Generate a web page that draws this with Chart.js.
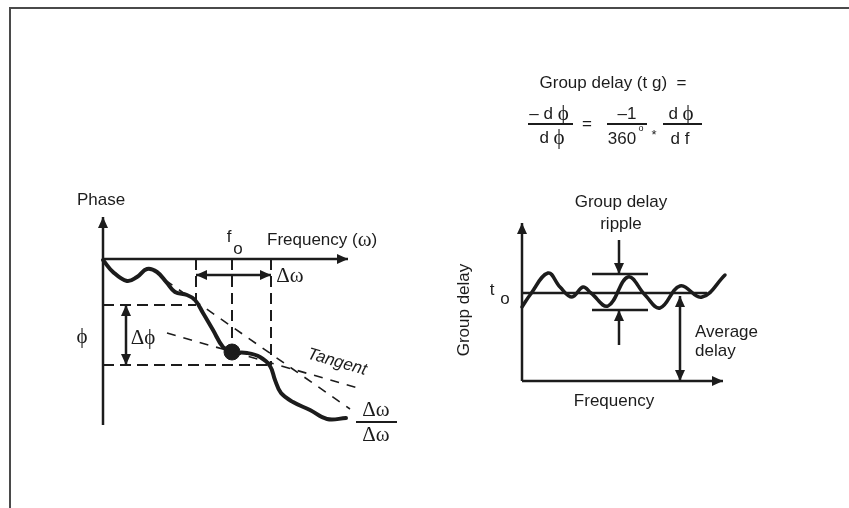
<!DOCTYPE html>
<html>
<head>
<meta charset="utf-8">
<script src="https://cdn.jsdelivr.net/npm/chart.js@4/dist/chart.umd.min.js"></script>
<style>
  html, body { margin: 0; padding: 0; background: #fff; }
  canvas { display: block; }
</style>
</head>
<body>
<canvas id="chart" width="849" height="508"></canvas>
<script>
// sheet units: x to the right, y downwards, one unit per pixel
const W = 849, H = 508;

// phase against frequency, with the operating point f0
const phaseCurve = [
  [103, 260], [113, 272], [127, 281], [137, 277], [147, 269], [157, 272],
  [167, 283], [175, 292], [187, 295], [195, 300], [203, 313], [213, 330],
  [223, 347], [232, 352], [247, 353], [260, 357], [270, 366], [275, 380],
  [281, 393], [293, 402], [310, 410], [327, 419], [346, 418]
];
const operatingPoint = [232, 352];
const tangentLine = [[167, 333], [358, 388]];
const secantLine = [[165, 280], [350, 409]];
const phaseAxisX = 103, freqAxisY = 259;
const omegaLeft = 196, omegaRight = 271;
const phiTop = 305, phiBottom = 365;

// group delay against frequency
const delayCurve = [
  [522, 307], [530, 295], [548, 273], [560, 287], [572, 297], [583, 287],
  [591, 293], [608, 306], [628, 277], [645, 295], [660, 308], [680, 286],
  [702, 297], [725, 275]
];
const delayAxisX = 522, delayBaseY = 381;
const averageDelayY = 293;
const rippleTop = 274, rippleBottom = 310;
const rippleLeft = 592, rippleRight = 648, rippleX = 619;
const averageX = 680;

const INK = '#1c1c1c';
const SANS = '"Liberation Sans", Arial, sans-serif';
const SERIF = '"Liberation Serif", "DejaVu Serif", serif';

function pts(list) {
  return list.map(([x, y]) => ({ x, y }));
}

function line(list, opts) {
  return Object.assign({
    data: pts(list),
    showLine: true,
    pointRadius: 0,
    borderColor: INK,
    borderWidth: 2.5,
    fill: false,
    tension: 0
  }, opts || {});
}

const dashed = { borderWidth: 2, borderDash: [11, 6] };
const thinDash = { borderWidth: 1.6, borderDash: [9, 8] };

// shafts of arrows: [x1, y1, x2, y2, heads]  heads: 1 = at end, 2 = both ends
const arrows = [
  [phaseAxisX, 425, phaseAxisX, 217, 1],
  [phaseAxisX, freqAxisY, 348, freqAxisY, 1],
  [omegaLeft, 275, omegaRight, 275, 2],
  [126, phiTop, 126, phiBottom, 2],
  [delayAxisX, delayBaseY, delayAxisX, 223, 1],
  [delayAxisX, delayBaseY, 723, delayBaseY, 1],
  [rippleX, 240, rippleX, rippleTop, 1],
  [rippleX, 345, rippleX, rippleBottom, 1],
  [averageX, averageDelayY + 3, averageX, delayBaseY, 2]
];

// fraction bars in the formula and beside the phase curve
const fractionBars = [
  [528, 573, 124], [607, 647, 124], [663, 702, 124], [356, 397, 422]
];

const datasets = [
  // sheet frame
  line([[9, 8], [W, 8]], { borderColor: '#4a4a4a', borderWidth: 2 }),
  line([[10, 8], [10, H]], { borderColor: '#4a4a4a', borderWidth: 2 }),
  // construction lines
  line([[omegaLeft, freqAxisY], [omegaLeft, 300]], dashed),
  line([[operatingPoint[0], freqAxisY], [operatingPoint[0], operatingPoint[1]]], dashed),
  line([[omegaRight, freqAxisY], [omegaRight, phiBottom]], dashed),
  line([[phaseAxisX, phiTop], [omegaLeft, phiTop]], dashed),
  line([[phaseAxisX, phiBottom], [omegaRight, phiBottom]], dashed),
  line(tangentLine, thinDash),
  line(secantLine, thinDash),
  // ripple limits and average delay
  line([[delayAxisX, averageDelayY], [707, averageDelayY]]),
  line([[rippleLeft, rippleTop], [rippleRight, rippleTop]]),
  line([[rippleLeft, rippleBottom], [rippleRight, rippleBottom]]),
  // curves
  line(phaseCurve, { borderWidth: 4, tension: 0.4, borderCapStyle: 'round' }),
  line(delayCurve, { borderWidth: 3.5, tension: 0.4, borderCapStyle: 'round' }),
  {
    data: pts([operatingPoint]),
    showLine: false,
    pointRadius: 8,
    pointBackgroundColor: INK,
    pointBorderColor: INK
  }
];
arrows.forEach(a => datasets.push(line([[a[0], a[1]], [a[2], a[3]]], { borderWidth: 2.5 })));
fractionBars.forEach(b => datasets.push(line([[b[0], b[2]], [b[1], b[2]]], { borderWidth: 1.8 })));

// text runs: [text, kind]  kind: undefined = sans, 'g' = serif greek
const notes = [
  { runs: [['Phase']], x: 101, y: 200 },
  { runs: [['f']], x: 229, y: 237 },
  { runs: [['o']], x: 238, y: 249 },
  { runs: [['Frequency ('], ['ω', 'g'], [')']], x: 267, y: 240, align: 'left' },
  { runs: [['Δω', 'g']], x: 290, y: 276 },
  { runs: [['ϕ', 'g']], x: 82, y: 337 },
  { runs: [['Δϕ', 'g']], x: 143, y: 338 },
  { runs: [['Tangent']], x: 337, y: 362, rotate: 16, italic: true },
  { runs: [['Δω', 'g']], x: 376, y: 410 },
  { runs: [['Δω', 'g']], x: 376, y: 435 },

  { runs: [['Group delay']], x: 621, y: 202 },
  { runs: [['ripple']], x: 621, y: 224 },
  { runs: [['t']], x: 492, y: 290 },
  { runs: [['o']], x: 505, y: 299 },
  { runs: [['Group delay']], x: 464, y: 310, rotate: -90 },
  { runs: [['Average']], x: 695, y: 332, align: 'left' },
  { runs: [['delay']], x: 695, y: 351, align: 'left' },
  { runs: [['Frequency']], x: 614, y: 401 },

  { runs: [['Group delay (t g)  =']], x: 613, y: 83 },
  { runs: [['– d '], ['ϕ', 'g']], x: 549, y: 114 },
  { runs: [['d '], ['ϕ', 'g']], x: 552, y: 138 },
  { runs: [['=']], x: 587, y: 124 },
  { runs: [['–1']], x: 627, y: 114 },
  { runs: [['360']], x: 622, y: 139 },
  { runs: [['o']], x: 641, y: 129, size: 9 },
  { runs: [['*']], x: 654, y: 135, size: 13 },
  { runs: [['d '], ['ϕ', 'g']], x: 681, y: 114 },
  { runs: [['d f']], x: 680, y: 139 }
];

// greek letters are set a little larger than the sans text around them
function fontFor(kind, size, italic) {
  const fam = kind === 'g' ? SERIF : SANS;
  const px = kind === 'g' ? Math.round(size * 1.22) : size;
  return (italic ? 'italic ' : '') + px + 'px ' + fam;
}

const diagram = {
  id: 'diagram',
  afterDatasetsDraw(chart) {
    const ctx = chart.ctx;
    const sx = chart.scales.x, sy = chart.scales.y;
    const px = v => sx.getPixelForValue(v);
    const py = v => sy.getPixelForValue(v);

    ctx.save();
    ctx.fillStyle = INK;

    // arrow heads
    const head = (x1, y1, x2, y2) => {
      const ang = Math.atan2(y2 - y1, x2 - x1);
      const len = 11, half = 5;
      ctx.save();
      ctx.translate(x2, y2);
      ctx.rotate(ang);
      ctx.beginPath();
      ctx.moveTo(0, 0);
      ctx.lineTo(-len, -half);
      ctx.lineTo(-len, half);
      ctx.closePath();
      ctx.fill();
      ctx.restore();
    };
    arrows.forEach(([x1, y1, x2, y2, n]) => {
      head(px(x1), py(y1), px(x2), py(y2));
      if (n === 2) head(px(x2), py(y2), px(x1), py(y1));
    });

    // labels
    ctx.textBaseline = 'middle';
    ctx.textAlign = 'left';
    notes.forEach(n => {
      const size = n.size || 17;
      let total = 0;
      n.runs.forEach(([t, k]) => {
        ctx.font = fontFor(k, size, n.italic);
        total += ctx.measureText(t).width;
      });
      ctx.save();
      ctx.translate(px(n.x), py(n.y));
      if (n.rotate) ctx.rotate(n.rotate * Math.PI / 180);
      let cx = n.align === 'left' ? 0 : -total / 2;
      n.runs.forEach(([t, k]) => {
        ctx.font = fontFor(k, size, n.italic);
        ctx.fillText(t, cx, 0);
        cx += ctx.measureText(t).width;
      });
      ctx.restore();
    });
    ctx.restore();
  }
};

new Chart(document.getElementById('chart'), {
  type: 'scatter',
  data: { datasets: datasets },
  options: {
    responsive: false,
    animation: false,
    events: [],
    layout: { padding: 0, autoPadding: false },
    scales: {
      x: { type: 'linear', min: 0, max: W, display: false },
      y: { type: 'linear', min: 0, max: H, reverse: true, display: false }
    },
    plugins: {
      legend: { display: false },
      tooltip: { enabled: false }
    }
  },
  plugins: [diagram]
});
</script>
</body>
</html>
